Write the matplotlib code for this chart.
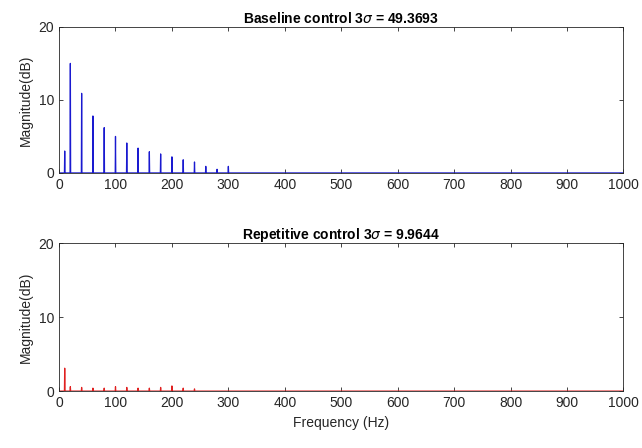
import matplotlib

matplotlib.use("Agg")
import matplotlib.pyplot as plt
import numpy as np

plt.rcParams["font.family"] = ["Liberation Sans", "DejaVu Sans"]

# baseline spectrum: harmonic spikes (Hz, dB)
base_freqs = [10, 20, 40, 60, 80, 100, 120, 140, 160, 180, 200, 220, 240, 260, 280, 300]
base_mags = [3.0, 15.0, 10.9, 7.8, 6.2, 5.0, 4.1, 3.4, 2.9, 2.6, 2.2, 1.8, 1.5, 0.9, 0.5, 0.9]

# repetitive control spectrum
rep_freqs = [10, 20, 40, 60, 80, 100, 120, 140, 160, 180, 200, 220, 240]
rep_mags = [3.1, 0.6, 0.5, 0.4, 0.4, 0.6, 0.5, 0.4, 0.4, 0.5, 0.7, 0.4, 0.3]

titles = [r"Baseline control 3$\sigma$ = 49.3693", r"Repetitive control 3$\sigma$ = 9.9644"]
colors = ["#1a1ad0", "#e02020"]
xticks = np.arange(0, 1001, 100)


def spectrum(freqs, mags, res=0.5):
    f = np.arange(0, 1000 + res, res)
    m = np.zeros_like(f)
    for fr, mg in zip(freqs, mags):
        m[np.argmin(np.abs(f - fr))] = mg
    return f, m


fig = plt.figure(figsize=(6.42, 4.48), dpi=100)
ax1 = fig.add_axes([0.092, 0.614, 0.879, 0.326])
ax2 = fig.add_axes([0.092, 0.127, 0.879, 0.330])

for ax, (fr, mg), title, col in zip(
    [ax1, ax2], [(base_freqs, base_mags), (rep_freqs, rep_mags)], titles, colors
):
    f, m = spectrum(fr, mg)
    ax.plot(f, m, color=col, lw=0.9)
    ax.set_xlim(0, 1000)
    ax.set_ylim(0, 20)
    ax.set_xticks(xticks)
    ax.set_yticks([0, 10, 20])
    ax.tick_params(direction="in", top=True, right=True, labelsize=10,
                   colors="#262626", length=3, width=0.6)
    for s in ax.spines.values():
        s.set_color("#262626")
        s.set_linewidth(0.6)
    ax.set_ylabel("Magnitude(dB)", fontsize=10, color="#262626")
    ax.set_title(title, fontsize=10, fontweight="bold", pad=3)

ax2.set_xlabel("Frequency (Hz)", fontsize=10, color="#262626")
fig.savefig("out.png", dpi=100)
